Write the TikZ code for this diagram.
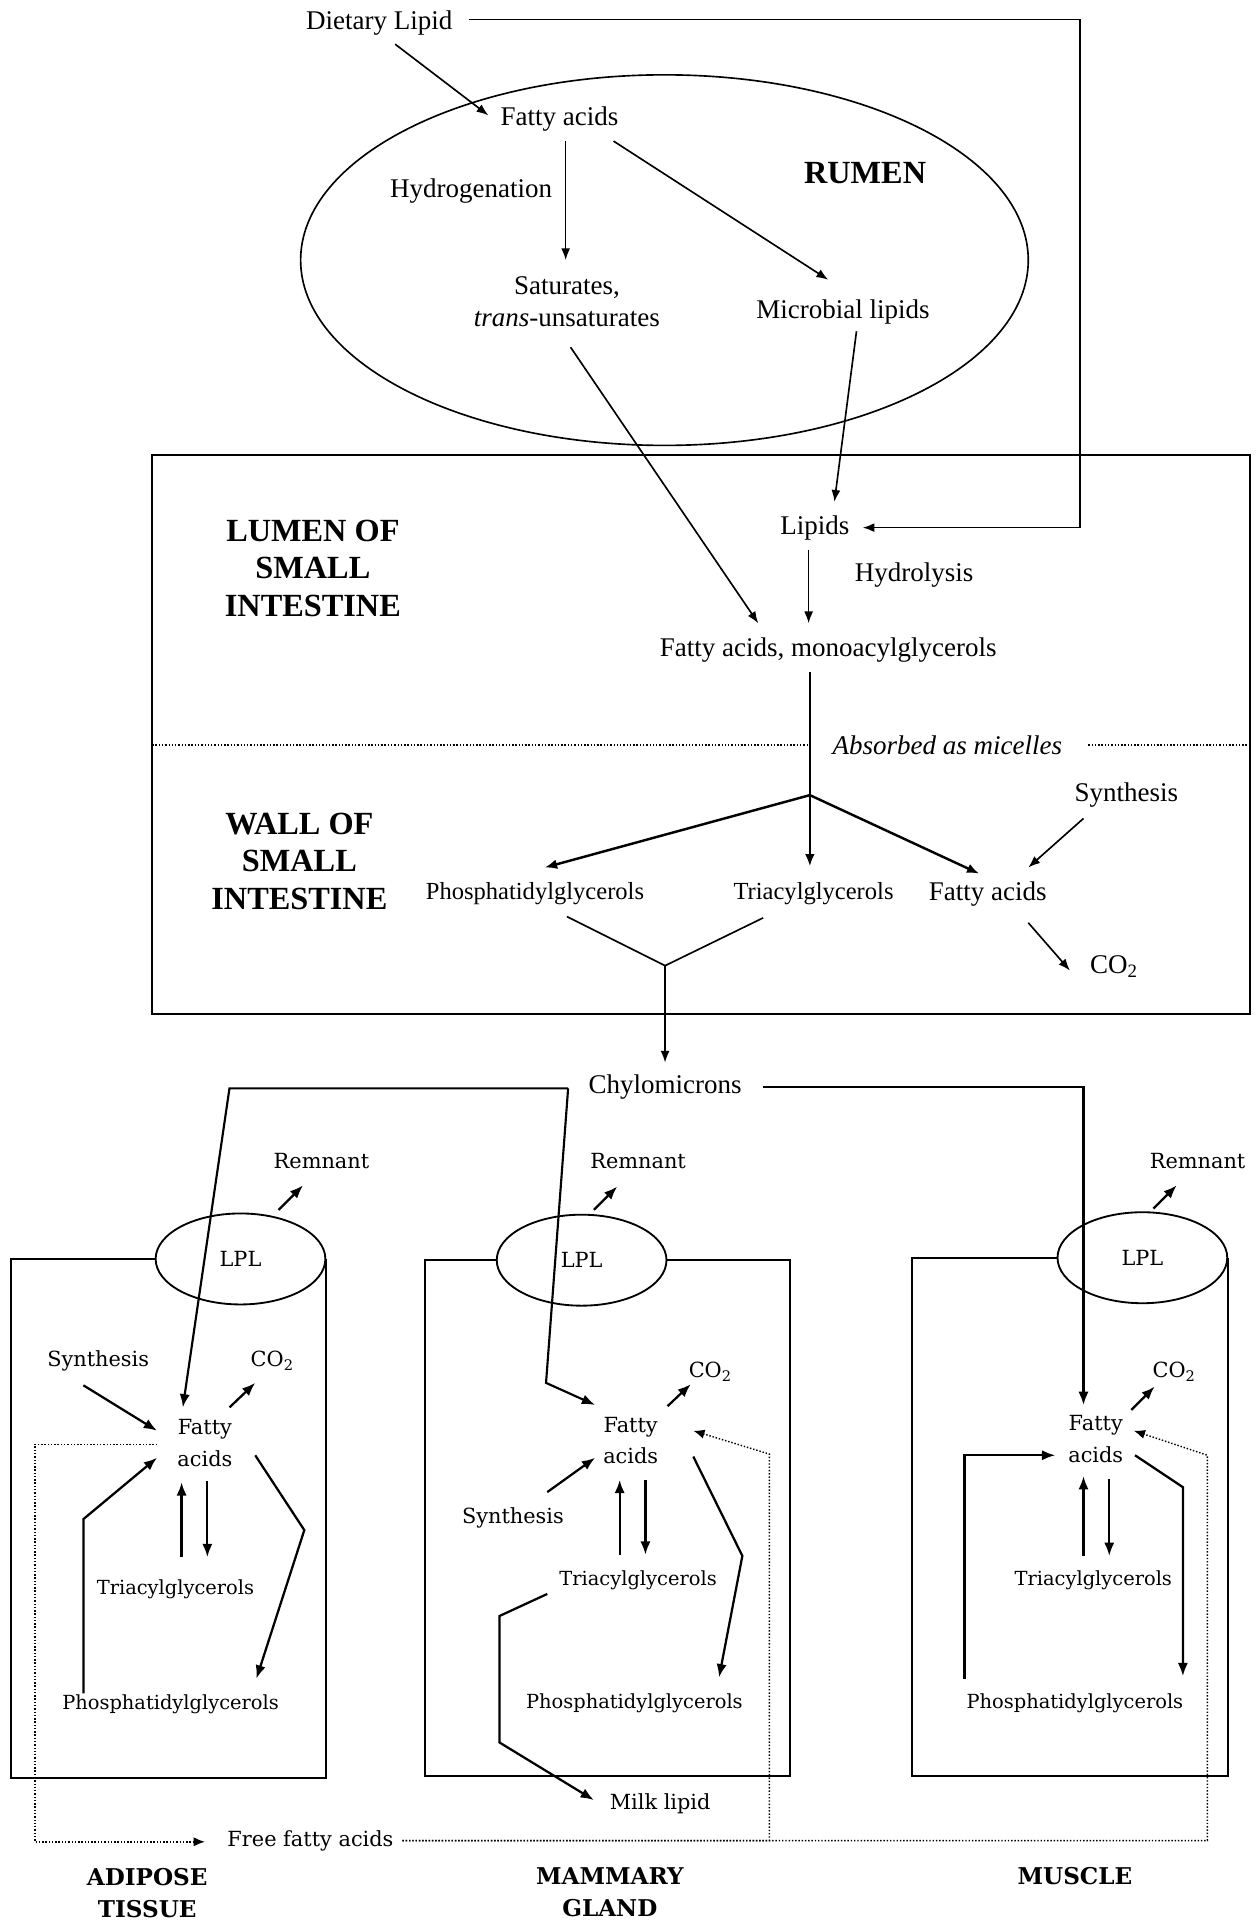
\documentclass[tikz,border=0pt]{standalone}
\usepackage{fontspec}
\setmainfont{Liberation Serif}
\newfontfamily\cent{DejaVu Serif}
\usetikzlibrary{arrows.meta,shapes.geometric,calc}

\tikzset{
  lbl/.style={font=\fontsize{13.2}{15.6}\selectfont, inner sep=0pt, align=center},
  slbl/.style={font=\fontsize{12}{14}\selectfont, inner sep=0pt},
  region/.style={font=\bfseries\fontsize{15.8}{18.3}\selectfont, align=center, inner sep=0pt},
  bl/.style={font=\cent\fontsize{10.2}{15.6}\selectfont, align=center, inner sep=0pt},
  blong/.style={font=\cent\fontsize{9.5}{12}\selectfont, inner sep=0pt},
  breg/.style={font=\cent\bfseries\fontsize{11.3}{15.6}\selectfont, align=center, inner sep=0pt},
  link/.style={line width=0.8pt},
  arr/.style={link, -{Latex[length=5.8pt,width=4.4pt]}},
  warr/.style={line width=1.2pt, -{Latex[length=6pt,width=4.8pt]}},
  carr/.style={line width=1.05pt, -{Latex[length=6.5pt,width=5pt]}},
  barr/.style={line width=1.1pt, -{Latex[length=6.5pt,width=5pt]}},
  dotline/.style={line width=0.7pt, dash pattern=on 0.7pt off 0.9pt},
  darr/.style={dotline, -{Latex[length=5.5pt,width=4.5pt]}},
  boxline/.style={line width=1pt},
  rumenshape/.style={draw, ellipse, link, minimum width=355.8pt, minimum height=181.2pt, inner sep=0pt},
  lplst/.style={draw, ellipse, line width=0.9pt, minimum width=83pt, minimum height=44.5pt, inner sep=0pt, font=\cent\fontsize{10.2}{12}\selectfont},
}

\begin{document}
\begin{tikzpicture}[x=0.6pt,y=-0.6pt]
\fill[white] (0,0) rectangle (1024,1568);
\useasboundingbox (0,0) rectangle (1024,1568);

% ---------- rumen ----------
\node[lbl] (diet) at (309,19) {Dietary Lipid};
\node[rumenshape] (rumen) at (541.5,212) {};
\node[lbl] (rfa) at (456,97) {Fatty acids};
\node[lbl] (hydro) at (384,156) {Hydrogenation};
\node[region] (rumenlbl) at (705,141) {RUMEN};
\node[lbl] (sat) at (462,246) {Saturates,\\\textit{trans}-unsaturates};
\node[lbl] (micro) at (687,254) {Microbial lipids};

% ---------- small intestine ----------
\draw[boxline] (124,371) rectangle (1019,826);
\draw[dotline] (124,607) -- (660,607);
\draw[dotline] (887,607) -- (1019,607);
\node[region] (lumen) at (255,463) {LUMEN OF\\SMALL\\INTESTINE};
\node[lbl] (lipids) at (664,430) {Lipids};
\node[lbl] (hydrol) at (745,469) {Hydrolysis};
\node[lbl] (fam) at (675,530) {Fatty acids, monoacylglycerols};
\node[lbl, font=\itshape\fontsize{13.2}{15.6}\selectfont] (absorbed) at (772,607) {Absorbed as micelles};
\node[region] (wall) at (244,702) {WALL OF\\SMALL\\INTESTINE};
\node[slbl] (wpg) at (436,728) {Phosphatidylglycerols};
\node[slbl] (wtag) at (663,728) {Triacylglycerols};
\node[lbl] (wfa) at (805,729) {Fatty acids};
\node[lbl] (wsyn) at (918,648) {Synthesis};
\node[lbl] (wco) at (908,788) {CO\textsubscript{2}};
\coordinate (br) at (660,648);
\coordinate (jn) at (542,787);
\node[lbl] (chylo) at (542,886) {Chylomicrons};

\draw[arr] ($(diet)+(73,-3)$) -| (880,430) -- ($(lipids)+(39,0)$);
\draw[arr] ($(diet)+(13,17)$) -- ($(rfa)+(-58,-3)$);
\draw[arr] ($(rfa)+(5,18)$) -- ($(sat)+(-1,-34)$);
\draw[arr] ($(rfa)+(44,18)$) -- ($(micro)+(-12,-26)$);
\draw[arr] ($(sat)+(3,37)$) -- ($(fam)+(-57,-22)$);
\draw[arr] ($(micro)+(11,16)$) -- ($(lipids)+(16,-21)$);
\draw[arr] ($(lipids)+(-5,18)$) -- ($(fam)+(-16,-22)$);
\draw[link] ($(fam)+(-15,18)$) -- (br);
\draw[warr] (br) -- ($(wpg)+(8,-21)$);
\draw[warr] (br) -- ($(wtag)+(-3,-22)$);
\draw[warr] (br) -- ($(wfa)+(-7,-17)$);
\draw[arr] ($(wsyn)+(-35,19)$) -- ($(wfa)+(33,-22)$);
\draw[arr] ($(wfa)+(33,23)$) -- ($(wco)+(-36,3)$);
\draw[link] ($(wpg)+(26,19)$) -- (jn) -- ($(wtag)+(-41,20)$);
\draw[arr] (jn) -- ($(chylo)+(0,-20)$);

% ---------- adipose tissue ----------
\node[lplst] (alpl) at (196,1026) {LPL};
\draw[boxline] (alpl.west) -| (9,1449) -| (alpl.east);
\node[bl] (arem) at (262,946) {Remnant};
\node[bl] (asyn) at (80,1109) {Synthesis};
\node[bl] (aco) at (222,1109) {CO\textsubscript{2}};
\node[bl] (afa) at (167,1176) {Fatty\\acids};
\node[blong] (atag) at (143,1295) {Triacylglycerols};
\node[blong] (apg) at (139,1389) {Phosphatidylglycerols};
\node[bl] (ffa) at (253,1500) {Free fatty acids};
\node[breg] (adip) at (120,1543) {ADIPOSE\\TISSUE};

\draw[barr] ($(alpl)+(31,-40)$) -- ($(arem)+(-15,20)$);
\draw[barr] ($(afa)+(20,-29)$) -- ($(aco)+(-14,18)$);
\draw[barr] ($(asyn)+(-12,20)$) -- ($(afa)+(-39,-10)$);
\draw[barr] ($(atag)+(5,-26)$) -- ($(afa)+(-19,32)$);
\draw[barr] ($(afa)+(2,31)$) -- ($(atag)+(26,-26)$);
\draw[barr] ($(apg)+(-71,-9)$) -- (68,1238) -- ($(afa)+(-39,12)$);
\draw[barr] ($(afa)+(41,10)$) -- (248,1247) -- ($(apg)+(70,-21)$);
\draw[darr] ($(afa)+(-39,1)$) -- (28.5,1177) -- (28.5,1501) -- ($(ffa)+(-86,1)$);

% ---------- mammary gland ----------
\node[lplst] (mlpl) at (474,1027) {LPL};
\draw[boxline] (mlpl.west) -| (346,1447) -| (644,1027) -- (mlpl.east);
\node[bl] (mrem) at (520,946) {Remnant};
\node[bl] (mco) at (579,1118) {CO\textsubscript{2}};
\node[bl] (mfa) at (514,1174) {Fatty\\acids};
\node[bl] (msyn) at (418,1237) {Synthesis};
\node[blong] (mtag) at (520,1288) {Triacylglycerols};
\node[blong] (mpg) at (517,1388) {Phosphatidylglycerols};
\node[bl] (milk) at (538,1470) {Milk lipid};
\node[breg] (mamm) at (497,1542) {MAMMARY\\GLAND};

\draw[barr] ($(mlpl)+(10,-41)$) -- ($(mrem)+(-17,21)$);
\draw[barr] ($(mfa)+(30,-28)$) -- ($(mco)+(-16,10)$);
\draw[barr] ($(msyn)+(28,-21)$) -- ($(mfa)+(-29,14)$);
\draw[barr] ($(mtag)+(-15,-21)$) -- ($(mfa)+(-9,32)$);
\draw[barr] ($(mfa)+(12,32)$) -- ($(mtag)+(6,-21)$);
\draw[barr] ($(mfa)+(51,13)$) -- (605,1268) -- ($(mpg)+(69,-21)$);
\draw[barr] ($(mtag)+(-74,11)$) -- (407,1317) -- (407,1420) -- ($(milk)+(-54,-3)$);

% ---------- muscle ----------
\node[lplst] (mulpl) at (931,1025) {LPL};
\draw[boxline] (mulpl.west) -| (743,1447) -| (mulpl.east);
\node[bl] (murem) at (976,946) {Remnant};
\node[bl] (muco) at (957,1118) {CO\textsubscript{2}};
\node[bl] (mufa) at (893,1173) {Fatty\\acids};
\node[blong] (mutag) at (891,1288) {Triacylglycerols};
\node[blong] (mupg) at (876,1388) {Phosphatidylglycerols};
\node[breg] (musc) at (876,1529) {MUSCLE};

\draw[barr] ($(mulpl)+(9,-40)$) -- ($(murem)+(-17,20)$);
\draw[barr] ($(mufa)+(29,-24)$) -- ($(muco)+(-16,12)$);
\draw[barr] ($(mutag)+(-8,-20)$) -- ($(mufa)+(-10,30)$);
\draw[barr] ($(mufa)+(11,32)$) -- ($(mutag)+(13,-20)$);
\draw[barr] ($(mupg)+(-90,-20)$) -- (786,1186) -- ($(mufa)+(-33,13)$);
\draw[barr] ($(mufa)+(32,13)$) -- (964,1212) -- ($(mupg)+(88,-22)$);

% ---------- chylomicron routes ----------
\draw[carr] ($(chylo)+(-79,1)$) -- (187,887) -- ($(afa)+(-18,-29)$);
\draw[carr] ($(chylo)+(-79,1)$) -- (445,1127) -- ($(mfa)+(-29,-29)$);
\draw[carr] ($(chylo)+(80,0)$) -| ($(mufa)+(-10,-28)$);

% ---------- free fatty acid routes ----------
\draw[darr] ($(ffa)+(75,0)$) -- (627,1500) -- (627,1185) -- ($(mfa)+(51,-8)$);
\draw[darr] ($(ffa)+(75,0)$) -- (984,1500) -- (984,1186) -- ($(mufa)+(31,-7)$);
\end{tikzpicture}
\end{document}
